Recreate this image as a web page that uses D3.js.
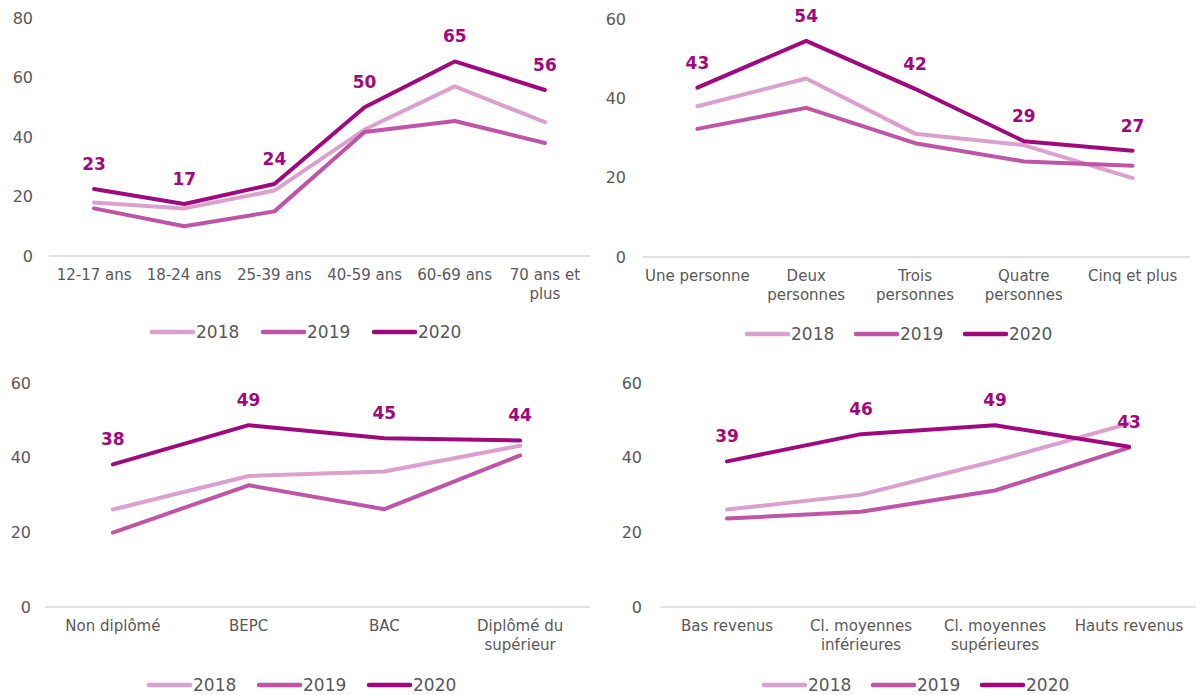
<!DOCTYPE html>
<html><head><meta charset="utf-8">
<script src="https://cdn.jsdelivr.net/npm/d3@7"></script>
<style>
body{margin:0;background:#fff;}
svg{display:block;font-family:"DejaVu Sans",Verdana,sans-serif;}
</style></head><body>
<svg id="c" width="1196" height="695"></svg>
<script>
const years = ["2018","2019","2020"];
const colors = ["#DBA0CE","#C055A8","#A0097E"];

// Panel 1 : âge
const ageCats = ["12-17 ans","18-24 ans","25-39 ans","40-59 ans","60-69 ans","70 ans et\nplus"];
const age2018 = [18, 16, 22, 42.5, 57, 45];
const age2019 = [16, 10, 15, 41.7, 45.4, 38];
const age2020 = [22.5, 17.5, 24.2, 50, 65.4, 55.8];
const ageLabels = ["23","17","24","50","65","56"];
const ageTicks = [0,20,40,60,80];

// Panel 2 : taille du foyer
const foyerCats = ["Une personne","Deux\npersonnes","Trois\npersonnes","Quatre\npersonnes","Cinq et plus"];
const foyer2018 = [38, 45, 31.1, 28.2, 19.9];
const foyer2019 = [32.3, 37.6, 28.7, 24.1, 23];
const foyer2020 = [42.7, 54.5, 42.4, 29.2, 26.8];
const foyerLabels = ["43","54","42","29","27"];
const foyerTicks = [0,20,40,60];

// Panel 3 : diplôme
const dipCats = ["Non diplômé","BEPC","BAC","Diplômé du\nsupérieur"];
const dip2018 = [26.1, 35.1, 36.3, 43.2];
const dip2019 = [19.9, 32.6, 26.2, 40.6];
const dip2020 = [38.2, 48.7, 45.2, 44.6];
const dipLabels = ["38","49","45","44"];
const dipTicks = [0,20,40,60];

// Panel 4 : revenus
const revCats = ["Bas revenus","Cl. moyennes\ninférieures","Cl. moyennes\nsupérieures","Hauts revenus"];
const rev2018 = [26.1, 30.1, 39.1, 49.1];
const rev2019 = [23.7, 25.5, 31.2, 42.7];
const rev2020 = [39, 46.3, 48.7, 42.9];
const revLabels = ["39","46","49","43"];
const revTicks = [0,20,40,60];

const svg = d3.select("#c");
const TXT = "#595959";

function panel(o){
  const g = svg.append("g");
  const x = d3.scaleBand().domain(o.cats).range([o.x0, o.x1]);
  const y = d3.scaleLinear().domain([0, o.ymax]).range([o.y0, o.y1]);
  // axis baseline
  g.append("line").attr("x1", o.x0).attr("x2", o.axEnd).attr("y1", y(0)).attr("y2", y(0))
    .attr("stroke","#D9D9D9").attr("stroke-width",1.5);
  // y ticks
  g.selectAll("text.yt").data(o.ticks).enter().append("text")
    .attr("x", o.tickX).attr("y", d=>y(d)).attr("dy","0.35em")
    .attr("text-anchor","end").attr("fill",TXT).attr("font-size",16).text(d=>d);
  // x labels
  o.cats.forEach(c=>{
    const lines = c.split("\n");
    const t = g.append("text").attr("text-anchor","middle").attr("fill",TXT).attr("font-size",15)
      .attr("x", x(c)+x.bandwidth()/2).attr("y", y(0)+24);
    lines.forEach((l,i)=>t.append("tspan").attr("x", x(c)+x.bandwidth()/2).attr("dy", i?19:0).text(l));
  });
  const line = d3.line().x((d,i)=>x(o.cats[i])+x.bandwidth()/2).y(d=>y(d));
  o.series.forEach((s,k)=>{
    g.append("path").attr("d", line(s)).attr("fill","none").attr("stroke",colors[k])
      .attr("stroke-width",4).attr("stroke-linejoin","round").attr("stroke-linecap","round");
  });
  // data labels (2020)
  const s20 = o.series[2];
  g.selectAll("text.dl").data(o.labels).enter().append("text")
    .attr("x",(d,i)=>x(o.cats[i])+x.bandwidth()/2).attr("y",(d,i)=>y(s20[i])-19)
    .attr("text-anchor","middle").attr("font-weight","bold").attr("font-size",17)
    .attr("fill","#A0097E").text(d=>d);
  // legend
  const lg = g.append("g").attr("transform",`translate(${o.legX},${o.legY})`);
  years.forEach((yr,k)=>{
    const ox = k*o.legStep;
    lg.append("line").attr("x1",ox+2).attr("x2",ox+43).attr("y1",0).attr("y2",0)
      .attr("stroke",colors[k]).attr("stroke-width",4.5).attr("stroke-linecap","round");
    lg.append("text").attr("x",ox+46).attr("y",0).attr("dy","0.36em").attr("fill",TXT)
      .attr("font-size",17).text(yr);
  });
}

panel({cats:ageCats, series:[age2018,age2019,age2020], labels:ageLabels, ticks:ageTicks, ymax:80,
  x0:49, x1:590, axEnd:590, y0:256, y1:18, tickX:33, legX:150, legY:332, legStep:111});
panel({cats:foyerCats, series:[foyer2018,foyer2019,foyer2020], labels:foyerLabels, ticks:foyerTicks, ymax:60,
  x0:643, x1:1187, axEnd:1190, y0:257, y1:19, tickX:626, legX:745, legY:334, legStep:109});
panel({cats:dipCats, series:[dip2018,dip2019,dip2020], labels:dipLabels, ticks:dipTicks, ymax:60,
  x0:45, x1:588, axEnd:590, y0:607, y1:383, tickX:31, legX:147, legY:685, legStep:110});
panel({cats:revCats, series:[rev2018,rev2019,rev2020], labels:revLabels, ticks:revTicks, ymax:60,
  x0:660, x1:1196, axEnd:1196, y0:607, y1:383, tickX:642, legX:762, legY:685, legStep:109});
</script></body></html>
